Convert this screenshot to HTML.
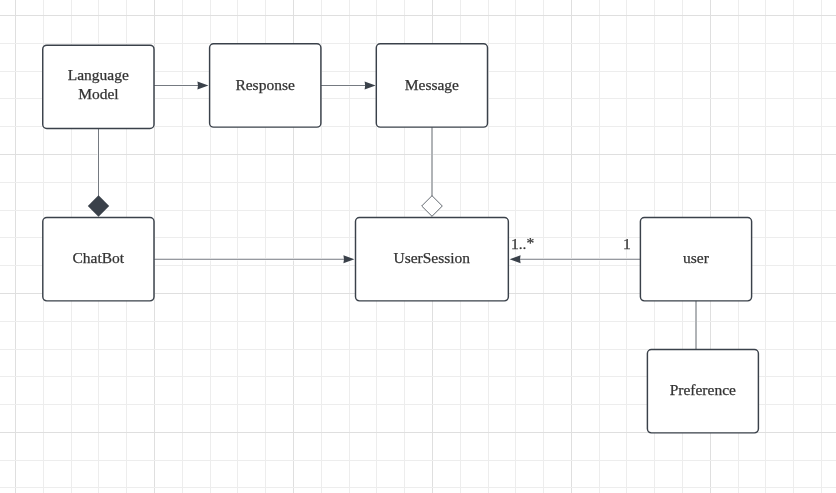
<!DOCTYPE html>
<html><head><meta charset="utf-8"><style>
html,body{margin:0;padding:0;background:#fff;overflow:hidden}
svg{display:block;will-change:transform}
text{font-family:"Liberation Serif",serif;font-size:15.5px;fill:#333333;stroke:#333333;stroke-width:0.25px}
</style></head><body>
<svg width="836" height="493" viewBox="0 0 836 493">
<rect width="836" height="493" fill="#fff"/>
<rect x="15" y="0" width="1" height="493" fill="#dfdfdf"/>
<rect x="43" y="0" width="1" height="493" fill="#ededed"/>
<rect x="71" y="0" width="1" height="493" fill="#ededed"/>
<rect x="98" y="0" width="1" height="493" fill="#ededed"/>
<rect x="126" y="0" width="1" height="493" fill="#ededed"/>
<rect x="154" y="0" width="1" height="493" fill="#dfdfdf"/>
<rect x="182" y="0" width="1" height="493" fill="#ededed"/>
<rect x="210" y="0" width="1" height="493" fill="#ededed"/>
<rect x="237" y="0" width="1" height="493" fill="#ededed"/>
<rect x="265" y="0" width="1" height="493" fill="#ededed"/>
<rect x="293" y="0" width="1" height="493" fill="#dfdfdf"/>
<rect x="321" y="0" width="1" height="493" fill="#ededed"/>
<rect x="349" y="0" width="1" height="493" fill="#ededed"/>
<rect x="376" y="0" width="1" height="493" fill="#ededed"/>
<rect x="404" y="0" width="1" height="493" fill="#ededed"/>
<rect x="432" y="0" width="1" height="493" fill="#dfdfdf"/>
<rect x="460" y="0" width="1" height="493" fill="#ededed"/>
<rect x="488" y="0" width="1" height="493" fill="#ededed"/>
<rect x="515" y="0" width="1" height="493" fill="#ededed"/>
<rect x="543" y="0" width="1" height="493" fill="#ededed"/>
<rect x="571" y="0" width="1" height="493" fill="#dfdfdf"/>
<rect x="599" y="0" width="1" height="493" fill="#ededed"/>
<rect x="626" y="0" width="1" height="493" fill="#ededed"/>
<rect x="654" y="0" width="1" height="493" fill="#ededed"/>
<rect x="682" y="0" width="1" height="493" fill="#ededed"/>
<rect x="710" y="0" width="1" height="493" fill="#dfdfdf"/>
<rect x="738" y="0" width="1" height="493" fill="#ededed"/>
<rect x="765" y="0" width="1" height="493" fill="#ededed"/>
<rect x="793" y="0" width="1" height="493" fill="#ededed"/>
<rect x="821" y="0" width="1" height="493" fill="#ededed"/>
<rect x="0" y="15" width="836" height="1" fill="#dfdfdf"/>
<rect x="0" y="43" width="836" height="1" fill="#ededed"/>
<rect x="0" y="71" width="836" height="1" fill="#ededed"/>
<rect x="0" y="98" width="836" height="1" fill="#ededed"/>
<rect x="0" y="126" width="836" height="1" fill="#ededed"/>
<rect x="0" y="154" width="836" height="1" fill="#dfdfdf"/>
<rect x="0" y="182" width="836" height="1" fill="#ededed"/>
<rect x="0" y="210" width="836" height="1" fill="#ededed"/>
<rect x="0" y="237" width="836" height="1" fill="#ededed"/>
<rect x="0" y="265" width="836" height="1" fill="#ededed"/>
<rect x="0" y="293" width="836" height="1" fill="#dfdfdf"/>
<rect x="0" y="321" width="836" height="1" fill="#ededed"/>
<rect x="0" y="349" width="836" height="1" fill="#ededed"/>
<rect x="0" y="376" width="836" height="1" fill="#ededed"/>
<rect x="0" y="404" width="836" height="1" fill="#ededed"/>
<rect x="0" y="432" width="836" height="1" fill="#dfdfdf"/>
<rect x="0" y="460" width="836" height="1" fill="#ededed"/>
<rect x="0" y="487" width="836" height="1" fill="#ededed"/>
<line x1="154.0" y1="85.5" x2="200" y2="85.5" stroke="#fff" stroke-width="2.4"/>
<line x1="320.9" y1="85.5" x2="367" y2="85.5" stroke="#fff" stroke-width="2.4"/>
<line x1="154.0" y1="259.25" x2="346" y2="259.25" stroke="#fff" stroke-width="2.4"/>
<line x1="640.4" y1="259.25" x2="518" y2="259.25" stroke="#fff" stroke-width="2.4"/>
<line x1="696.0" y1="300.7" x2="696.0" y2="349.5" stroke="#fff" stroke-width="2.4"/>
<line x1="98.5" y1="128.3" x2="98.5" y2="196" stroke="#fff" stroke-width="2.4"/>
<line x1="432.0" y1="126.7" x2="432.0" y2="196" stroke="#fff" stroke-width="2.4"/>
<line x1="154.0" y1="85.5" x2="200" y2="85.5" stroke="#3a414a" stroke-width="0.7"/>
<polygon points="208.4,85.45 197.40,81.45 198.00,85.45 197.40,89.45" fill="#3a414a"/>
<line x1="320.9" y1="85.5" x2="367" y2="85.5" stroke="#3a414a" stroke-width="0.7"/>
<polygon points="375.6,85.45 364.60,81.45 365.20,85.45 364.60,89.45" fill="#3a414a"/>
<line x1="154.0" y1="259.25" x2="346" y2="259.25" stroke="#3a414a" stroke-width="0.7"/>
<polygon points="354.4,259.3 343.40,255.3 344.00,259.3 343.40,263.3" fill="#3a414a"/>
<line x1="640.4" y1="259.25" x2="518" y2="259.25" stroke="#3a414a" stroke-width="0.7"/>
<polygon points="509.6,259.3 520.60,255.3 520.00,259.3 520.60,263.3" fill="#3a414a"/>
<line x1="696.0" y1="300.7" x2="696.0" y2="349.5" stroke="#3a414a" stroke-width="0.8"/>
<line x1="98.5" y1="128.3" x2="98.5" y2="196" stroke="#3a414a" stroke-width="0.7"/>
<polygon points="98.5,195.3 109.2,206 98.5,216.7 87.8,206" fill="#3a414a"/>
<line x1="432.0" y1="126.7" x2="432.0" y2="196" stroke="#3a414a" stroke-width="0.8"/>
<polygon points="432.0,195.7 442.3,206 432.0,216.3 421.7,206" fill="#fff" stroke="#3a414a" stroke-width="0.8"/>
<rect x="42.75" y="45.2" width="111.25" height="83.30" rx="4" ry="4" fill="#fff" stroke="#3a414a" stroke-width="1.45"/>
<rect x="209.6" y="43.8" width="111.30" height="83.35" rx="4" ry="4" fill="#fff" stroke="#3a414a" stroke-width="1.45"/>
<rect x="376.3" y="43.8" width="111.20" height="83.35" rx="4" ry="4" fill="#fff" stroke="#3a414a" stroke-width="1.45"/>
<rect x="42.8" y="217.5" width="111.20" height="83.35" rx="4" ry="4" fill="#fff" stroke="#3a414a" stroke-width="1.45"/>
<rect x="355.5" y="217.5" width="152.85" height="83.35" rx="4" ry="4" fill="#fff" stroke="#3a414a" stroke-width="1.45"/>
<rect x="640.4" y="217.5" width="111.20" height="83.35" rx="4" ry="4" fill="#fff" stroke="#3a414a" stroke-width="1.45"/>
<rect x="647.4" y="349.5" width="111.00" height="83.35" rx="4" ry="4" fill="#fff" stroke="#3a414a" stroke-width="1.45"/>
<text x="98.3" y="80.4" text-anchor="middle">Language</text>
<text x="98.45" y="98.7" text-anchor="middle">Model</text>
<text x="265.1" y="89.5" text-anchor="middle">Response</text>
<text x="431.9" y="89.5" text-anchor="middle">Message</text>
<text x="98.3" y="263.0" text-anchor="middle">ChatBot</text>
<text x="431.8" y="263.35" text-anchor="middle">UserSession</text>
<text x="696.0" y="263.1" text-anchor="middle">user</text>
<text x="702.8" y="395.2" text-anchor="middle">Preference</text>
<text x="510.9" y="249.2">1..<tspan dy="-0.8">*</tspan></text>
<text x="623.0" y="249.2" text-anchor="start">1</text>
</svg>
</body></html>
